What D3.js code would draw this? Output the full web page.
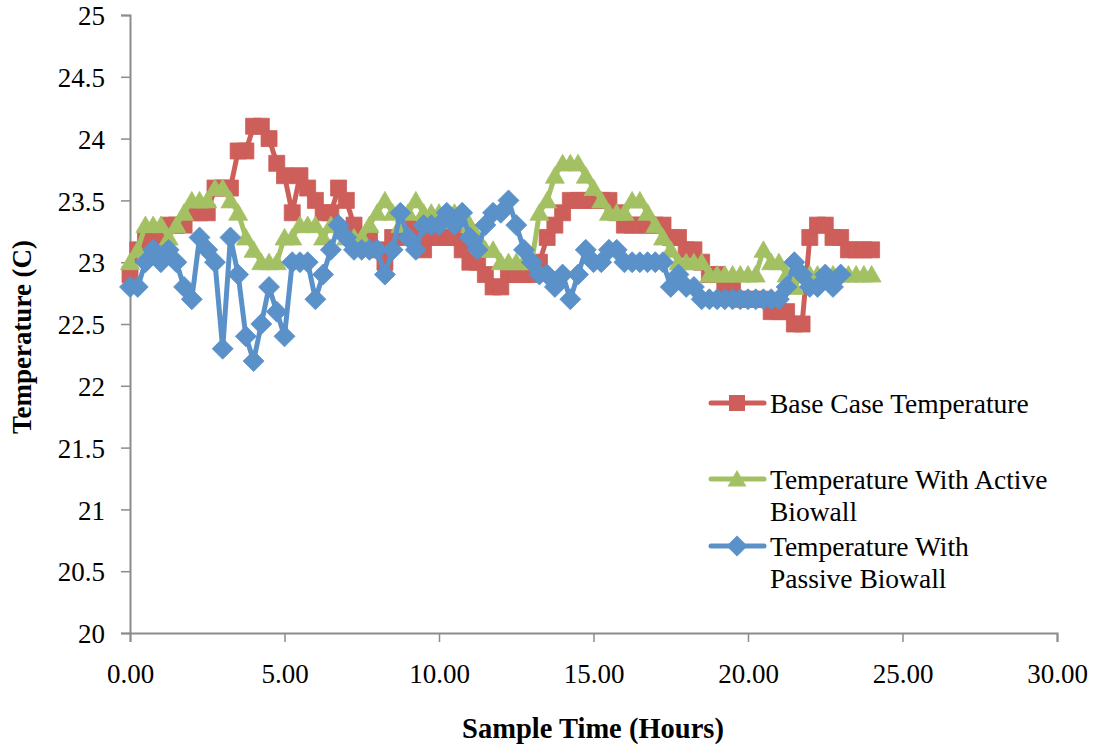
<!DOCTYPE html>
<html>
<head>
<meta charset="utf-8">
<script src="https://cdn.jsdelivr.net/npm/d3@7/dist/d3.min.js"></script>
<style>
  html, body { margin: 0; padding: 0; background: #fff; }
  svg text { font-family: "Liberation Serif", "DejaVu Serif", serif; fill: #000; }
</style>
</head>
<body>
<svg id="chart" width="1096" height="746"></svg>
<script>
// Sample times (hours) for the logged temperatures
const sampleHours = [
  0.00, 0.25, 0.50, 0.75, 1.00, 1.25, 1.50, 1.75, 2.00, 2.25, 2.50, 2.75,
  3.00, 3.25, 3.50, 3.75, 4.00, 4.25, 4.50, 4.75, 5.00, 5.25, 5.50, 5.75,
  6.00, 6.25, 6.50, 6.75, 7.00, 7.25, 7.50, 7.75, 8.00, 8.25, 8.50, 8.75,
  9.00, 9.25, 9.50, 9.75, 10.00, 10.25, 10.50, 10.75, 11.00, 11.25, 11.50, 11.75,
  12.00, 12.25, 12.50, 12.75, 13.00, 13.25, 13.50, 13.75, 14.00, 14.25, 14.50, 14.75,
  15.00, 15.25, 15.50, 15.75, 16.00, 16.25, 16.50, 16.75, 17.00, 17.25, 17.50, 17.75,
  18.00, 18.25, 18.50, 18.75, 19.00, 19.25, 19.50, 19.75, 20.00, 20.25, 20.50, 20.75,
  21.00, 21.25, 21.50, 21.75, 22.00, 22.25, 22.50, 22.75, 23.00, 23.25, 23.50, 23.75,
  24.00
];

// Base case (no biowall), deg C
const baseCase = [
  22.9, 23.1, 23.2, 23.2, 23.2,
  23.3, 23.3, 23.3, 23.4,
  23.4, 23.4, 23.6, 23.6,
  23.6, 23.9, 23.9, 24.1,
  24.1, 24.0, 23.8, 23.7,
  23.4, 23.7, 23.6, 23.5,
  23.4, 23.4, 23.6, 23.5,
  23.3, 23.2, 23.2, 23.1,
  23.0, 23.2, 23.2, 23.3,
  23.2, 23.1, 23.2, 23.2,
  23.2, 23.2, 23.1, 23.0,
  23.0, 22.9, 22.8, 22.8,
  22.9, 22.9, 22.9, 22.9,
  23.0, 23.2, 23.3, 23.4,
  23.5, 23.5, 23.5, 23.5,
  23.5, 23.5, 23.4, 23.3,
  23.3, 23.3, 23.3, 23.3,
  23.3, 23.2, 23.2, 23.1,
  23.1, 23.0, 22.9, 22.9,
  22.8, 22.8, 22.7, 22.7,
  22.7, 22.7, 22.6, 22.6,
  22.6, 22.5, 22.5, 23.2,
  23.3, 23.3, 23.2, 23.2,
  23.1, 23.1, 23.1, 23.1
];

// Active biowall, deg C
const activeBiowall = [
  23.0, 23.1, 23.3, 23.3, 23.3,
  23.2, 23.3, 23.4, 23.5,
  23.5, 23.5, 23.6, 23.6,
  23.5, 23.4, 23.2, 23.1,
  23.0, 23.0, 23.0, 23.2,
  23.2, 23.3, 23.3, 23.3,
  23.2, 23.3, 23.3, 23.2,
  23.2, 23.2, 23.3, 23.4,
  23.5, 23.4, 23.3, 23.4,
  23.5, 23.4, 23.4, 23.4,
  23.4, 23.4, 23.4, 23.3,
  23.2, 23.1, 23.1, 23.0,
  23.0, 23.0, 23.0, 23.0,
  23.4, 23.5, 23.7, 23.8,
  23.8, 23.8, 23.7, 23.6,
  23.5, 23.4, 23.4, 23.4,
  23.5, 23.5, 23.4, 23.3,
  23.2, 23.1, 23.0, 23.0,
  23.0, 23.0, 22.9, 22.9,
  22.9, 22.9, 22.9, 22.9,
  22.9, 23.1, 23.0, 23.0,
  22.9, 22.8, 22.9, 22.9,
  22.9, 22.9, 22.9, 22.9,
  22.9, 22.9, 22.9, 22.9
];

// Passive biowall, deg C (logging stops at 23 h)
const passiveBiowall = [
  22.8, 22.8, 23.0, 23.1, 23.0,
  23.1, 23.0, 22.8, 22.7,
  23.2, 23.1, 23.0, 22.3,
  23.2, 22.9, 22.4, 22.2,
  22.5, 22.8, 22.6, 22.4,
  23.0, 23.0, 23.0, 22.7,
  22.9, 23.1, 23.3, 23.2,
  23.1, 23.1, 23.1, 23.1,
  22.9, 23.1, 23.4, 23.2,
  23.1, 23.3, 23.3, 23.3,
  23.4, 23.3, 23.4, 23.2,
  23.1, 23.3, 23.4, 23.4,
  23.5, 23.3, 23.1, 23.0,
  22.9, 22.9, 22.8, 22.9,
  22.7, 22.9, 23.1, 23.0,
  23.0, 23.1, 23.1, 23.0,
  23.0, 23.0, 23.0, 23.0,
  23.0, 22.8, 22.9, 22.8,
  22.8, 22.7, 22.7, 22.7,
  22.7, 22.7, 22.7, 22.7,
  22.7, 22.7, 22.7, 22.7,
  22.8, 23.0, 22.9, 22.8,
  22.8, 22.9, 22.8, 22.9
];

const xTicks = [0, 5, 10, 15, 20, 25, 30];
const yTicks = [20, 20.5, 21, 21.5, 22, 22.5, 23, 23.5, 24, 24.5, 25];

const seriesNames = [
  ["Base Case Temperature"],
  ["Temperature With Active", "Biowall"],
  ["Temperature With", "Passive Biowall"]
];
const seriesColors = ["#CD5E5A", "#A3C163", "#5B91C9"];
const seriesMarkers = ["square", "triangle", "diamond"];

const series = [baseCase, activeBiowall, passiveBiowall].map((vals, i) => ({
  name: seriesNames[i],
  color: seriesColors[i],
  marker: seriesMarkers[i],
  points: vals.map((v, j) => ({ h: sampleHours[j], t: v }))
}));

const svg = d3.select("#chart");
const plot = { left: 130, right: 1057, top: 15, bottom: 633 };

const x = d3.scaleLinear().domain([0, 30]).range([plot.left, plot.right]);
const y = d3.scaleLinear().domain([20, 25]).range([plot.bottom, plot.top]);

// marker shapes, centred on the origin
function markerPath(kind) {
  if (kind === "square") {
    const s = 8;
    return `M${-s},${-s}H${s}V${s}H${-s}Z`;
  }
  if (kind === "triangle") {
    return "M0,-9L9.5,7.5L-9.5,7.5Z";
  }
  const d = 10.5;
  return `M0,${-d}L${d},0L0,${d}L${-d},0Z`;
}

// axes
const axisColor = "#8c8c8c";
const yAxis = d3.axisLeft(y).tickValues(yTicks).tickSize(9).tickPadding(16)
  .tickFormat(d => d3.format("")(d));
const gy = svg.append("g").attr("transform", `translate(${plot.left},0)`).call(yAxis);
const xAxis = d3.axisBottom(x).tickValues(xTicks).tickSize(9).tickPadding(22)
  .tickFormat(d3.format(".2f"));
const gx = svg.append("g").attr("transform", `translate(0,${plot.bottom})`).call(xAxis);

[gx, gy].forEach(g => {
  g.select(".domain").attr("stroke", axisColor).attr("stroke-width", 2);
  g.selectAll(".tick line").attr("stroke", axisColor).attr("stroke-width", 1.5);
  g.selectAll(".tick text")
    .attr("font-family", '"Liberation Serif", serif')
    .attr("font-size", 27)
    .attr("fill", "#000");
});
gy.selectAll(".tick text").attr("dy", "0.36em");

// axis titles
svg.append("text")
  .attr("x", 593)
  .attr("y", 738)
  .attr("text-anchor", "middle")
  .attr("font-size", 28.5)
  .attr("font-weight", "bold")
  .text("Sample Time (Hours)");

svg.append("text")
  .attr("transform", "translate(31,337) rotate(-90)")
  .attr("text-anchor", "middle")
  .attr("font-size", 27)
  .attr("font-weight", "bold")
  .text("Temperature (C)");

// series lines then markers
const line = d3.line().x(d => x(d.h)).y(d => y(d.t));
series.forEach(s => {
  const g = svg.append("g");
  g.append("path")
    .datum(s.points)
    .attr("fill", "none")
    .attr("stroke", s.color)
    .attr("stroke-width", 5)
    .attr("stroke-linejoin", "round")
    .attr("stroke-linecap", "round")
    .attr("d", line);
  g.selectAll("path.mk")
    .data(s.points)
    .join("path")
    .attr("class", "mk")
    .attr("d", markerPath(s.marker))
    .attr("transform", d => `translate(${x(d.h)},${y(d.t)})`)
    .attr("fill", s.color)
    .attr("stroke", s.color)
    .attr("stroke-width", 0.8);
});

// legend
const legendRows = [403, 479, 546];
series.forEach((s, i) => {
  const g = svg.append("g").attr("transform", `translate(0,${legendRows[i]})`);
  g.append("line")
    .attr("x1", 711).attr("x2", 764)
    .attr("y1", 0).attr("y2", 0)
    .attr("stroke", s.color).attr("stroke-width", 5)
    .attr("stroke-linecap", "round");
  g.append("path")
    .attr("d", markerPath(s.marker))
    .attr("transform", "translate(737,0)")
    .attr("fill", s.color);
  s.name.forEach((ln, k) => {
    g.append("text")
      .attr("x", 770)
      .attr("y", k * 32)
      .attr("dy", "0.35em")
      .attr("font-size", 27.5)
      .text(ln);
  });
});
</script>
</body>
</html>
